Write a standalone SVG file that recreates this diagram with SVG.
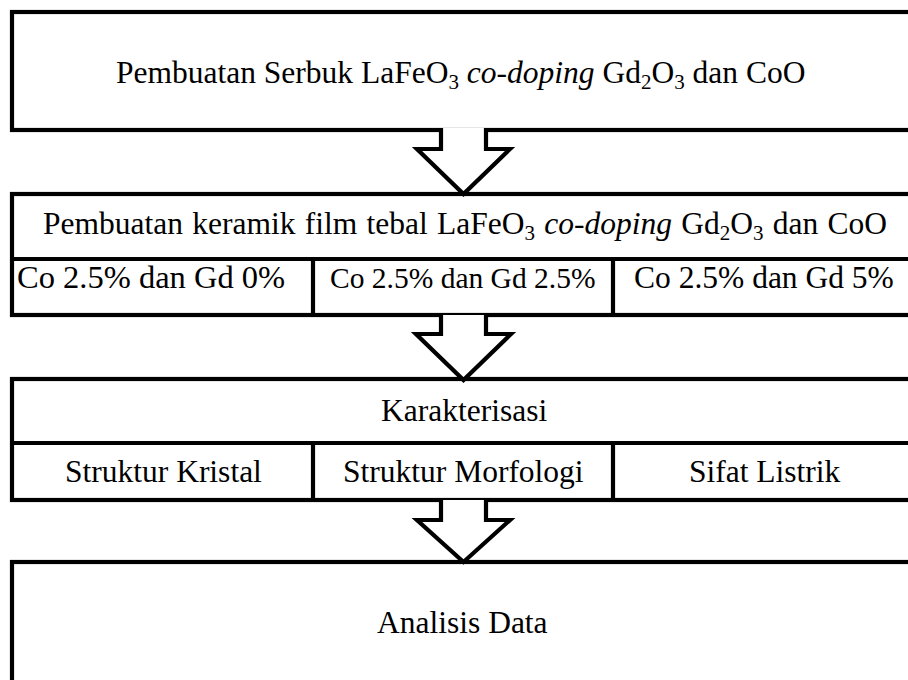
<svg xmlns="http://www.w3.org/2000/svg" width="908" height="680" viewBox="0 0 908 680">
<style>
.box{fill:#fff;stroke:#000;stroke-width:4.2;}
.ln{fill:none;stroke:#000;stroke-width:4.2;}
.t{font-family:"Liberation Serif","Times New Roman",serif;font-size:31.5px;fill:#000;}
.it{font-style:italic;}
.arrow{fill:#fff;stroke:#000;stroke-width:4.2;stroke-linejoin:miter;}
</style>
<rect width="908" height="680" fill="#fff"/>

<g id="node-serbuk">
<rect class="box" x="12" y="12" width="920" height="118"/>
<text class="t" x="116" y="83">Pembuatan Serbuk LaFeO<tspan font-size="21" dy="6">3</tspan><tspan dy="-6"> </tspan><tspan class="it">co-doping</tspan> Gd<tspan font-size="21" dy="6">2</tspan><tspan dy="-6">O</tspan><tspan font-size="21" dy="6">3</tspan><tspan dy="-6"> dan CoO</tspan></text>
</g>

<g id="node-keramik">
<rect class="box" x="12" y="194" width="920" height="121"/>
<line class="ln" x1="12" y1="259" x2="920" y2="259"/>
<line class="ln" x1="313" y1="259" x2="313" y2="315"/>
<line class="ln" x1="613" y1="259" x2="613" y2="315"/>
<text class="t" x="43" y="234" word-spacing="1.4">Pembuatan keramik film tebal LaFeO<tspan font-size="21" dy="6">3</tspan><tspan dy="-6"> </tspan><tspan class="it">co-doping</tspan> Gd<tspan font-size="21" dy="6">2</tspan><tspan dy="-6">O</tspan><tspan font-size="21" dy="6">3</tspan><tspan dy="-6"> dan CoO</tspan></text>
<text class="t" x="17" y="288" style="font-size:32.5px">Co 2.5% dan Gd 0%</text>
<text class="t" x="330" y="288" style="font-size:29.5px">Co 2.5% dan Gd 2.5%</text>
<text class="t" x="634" y="288">Co 2.5% dan Gd 5%</text>
</g>

<g id="node-karakterisasi">
<rect class="box" x="12" y="379" width="920" height="121"/>
<line class="ln" x1="12" y1="443" x2="920" y2="443"/>
<line class="ln" x1="313" y1="443" x2="313" y2="500"/>
<line class="ln" x1="613" y1="443" x2="613" y2="500"/>
<text class="t" x="381" y="421">Karakterisasi</text>
<text class="t" x="65" y="482">Struktur Kristal</text>
<text class="t" x="343" y="482">Struktur Morfologi</text>
<text class="t" x="689" y="482">Sifat Listrik</text>
</g>

<g id="node-analisis">
<rect class="box" x="12" y="562" width="920" height="140"/>
<text class="t" x="377" y="633">Analisis Data</text>
</g>

<g id="connectors">
<polygon points="441,128 441,149 417,149 463.5,194 510,149 486,149 486,128" fill="#fff" stroke="none"/>
<polyline class="arrow" points="441,128 441,149 417,149 463.5,194 510,149 486,149 486,128"/>
<polyline class="arrow" points="441,315 441,334 416,334 463.5,380 511,334 486,334 486,315"/>
<polyline class="arrow" points="441,500 441,520 417,520 463.5,562 510,520 486,520 486,500"/>
</g>
</svg>
